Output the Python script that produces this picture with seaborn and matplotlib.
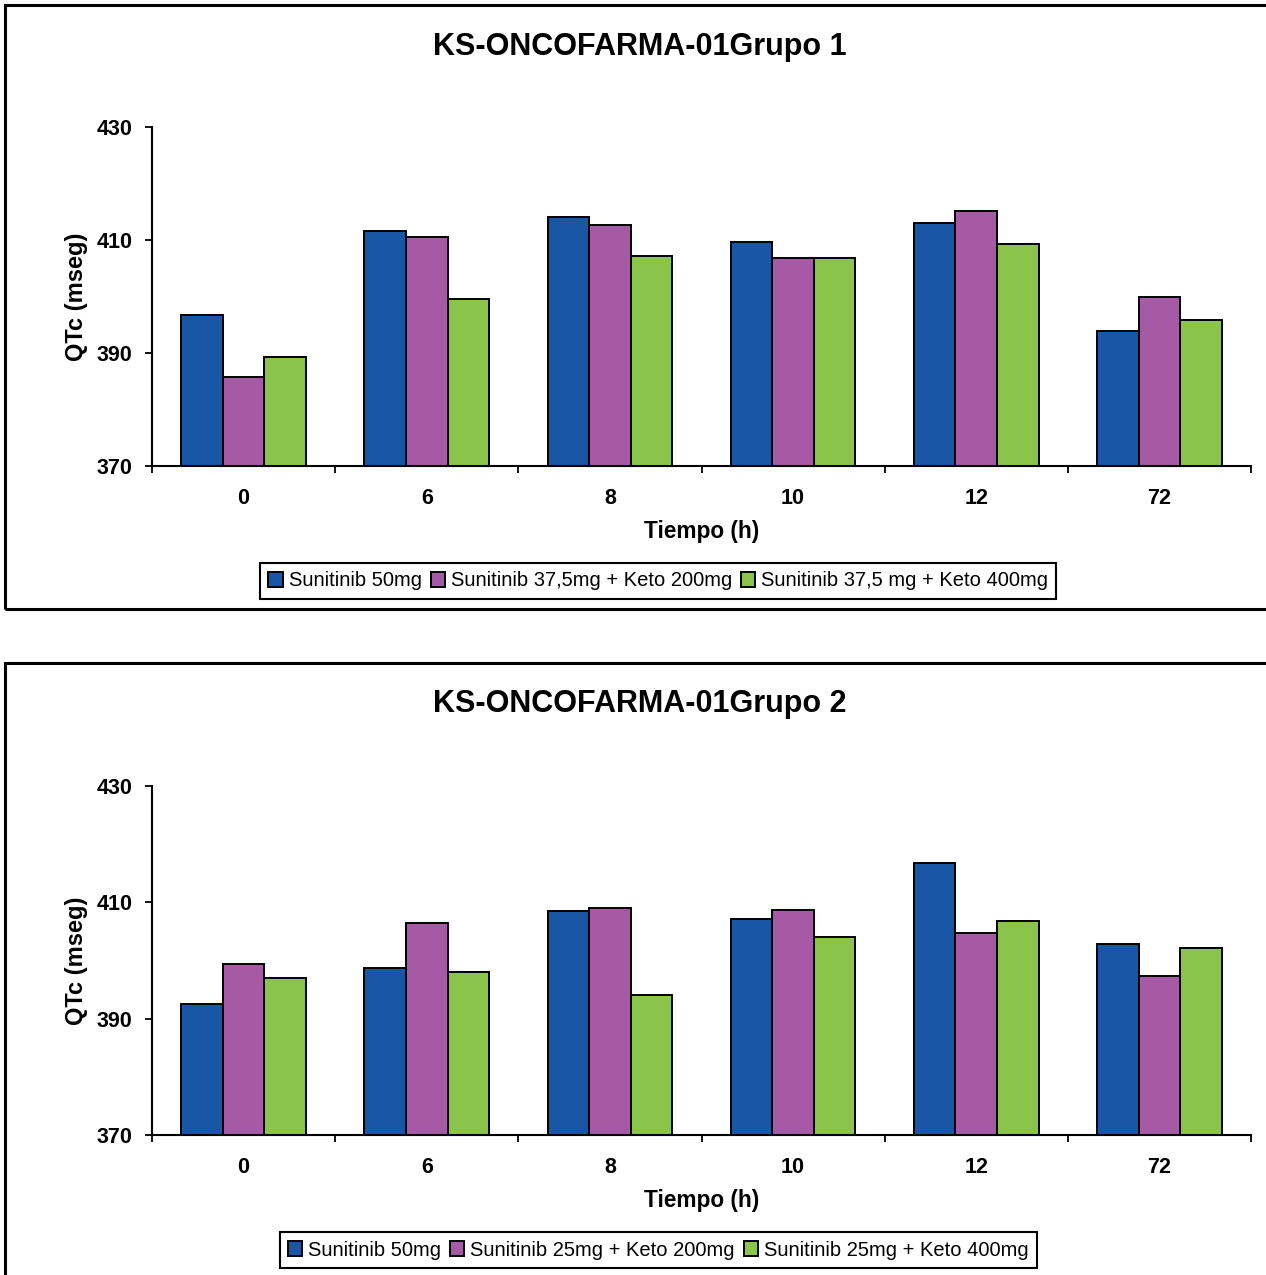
import numpy as np
import pandas as pd
import matplotlib
matplotlib.use("Agg")
import matplotlib.pyplot as plt
from matplotlib.patches import Rectangle
import seaborn as sns

# ---------------- data ----------------
times = ["0", "6", "8", "10", "12", "72"]

g1_labels = ["Sunitinib 50mg", "Sunitinib 37,5mg + Keto 200mg", "Sunitinib 37,5 mg + Keto 400mg"]
g1_s50 = [396.7, 411.6, 414.1, 409.6, 413.0, 393.9]
g1_k200 = [385.8, 410.5, 412.7, 406.8, 415.1, 399.9]
g1_k400 = [389.3, 399.6, 407.2, 406.8, 409.3, 395.8]

g2_labels = ["Sunitinib 50mg", "Sunitinib 25mg + Keto 200mg", "Sunitinib 25mg + Keto 400mg"]
g2_s50 = [392.5, 398.7, 408.5, 407.1, 416.8, 402.8]
g2_k200 = [399.4, 406.4, 409.0, 408.7, 404.7, 397.4]
g2_k400 = [397.0, 398.0, 394.1, 404.0, 406.8, 402.1]

titles = ["KS-ONCOFARMA-01Grupo 1", "KS-ONCOFARMA-01Grupo 2"]
yticks = [370, 390, 410, 430]
colors = ["#1957A6", "#A65AA6", "#8BC44A"]

sns.set_theme(style="white")
plt.rcParams['font.family'] = ['Liberation Sans', 'DejaVu Sans']
plt.rcParams['text.color'] = 'black'
plt.rcParams['axes.labelcolor'] = 'black'
plt.rcParams['xtick.color'] = 'black'
plt.rcParams['ytick.color'] = 'black'

fig = plt.figure(figsize=(12.66, 12.75), dpi=100)

# panel borders (figure coordinates)
W, H = 1266, 1275
for (y0, y1) in [(5, 609), (663, 1285)]:
    fig.patches.append(Rectangle((5 / W, 1 - y1 / H), 1.2, (y1 - y0) / H,
                                 transform=fig.transFigure, fill=False,
                                 edgecolor="black", linewidth=2.2, zorder=0))

axes_pos = [
    [152 / W, 1 - 466 / H, (1251 - 152) / W, (466 - 127) / H],
    [152 / W, 1 - 1135 / H, (1251 - 152) / W, (1135 - 786) / H],
]
title_y = [1 - 47 / H, 1 - 704 / H]
legend_y = [1 - 581 / H, 1 - 1250 / H]

datasets = [
    (g1_labels, [g1_s50, g1_k200, g1_k400]),
    (g2_labels, [g2_s50, g2_k200, g2_k400]),
]

for i, (labels, series) in enumerate(datasets):
    rows = []
    for lab, vals in zip(labels, series):
        for t, v in zip(times, vals):
            rows.append({"Tiempo": t, "QTc": v, "Serie": lab})
    df = pd.DataFrame(rows)
    ax = fig.add_axes(axes_pos[i])
    sns.barplot(data=df, x="Tiempo", y="QTc", hue="Serie", order=times,
                hue_order=labels, palette=colors, width=0.68,
                edgecolor="black", linewidth=1.4, saturation=1,
                ax=ax, errorbar=None)
    ax.set_ylim(370, 430)
    ax.set_xlim(-0.5, 5.5)
    ax.set_yticks(yticks)
    ax.set_yticklabels([str(v) for v in yticks], fontsize=15.5, fontweight="bold")
    ax.set_xticks(range(len(times)))
    ax.set_xticklabels(times, fontsize=15.5, fontweight="bold")
    ax.set_xticks(np.arange(-0.5, len(times)), minor=True)
    ax.tick_params(axis="x", which="major", length=0, pad=16, bottom=False)
    ax.tick_params(axis="x", which="minor", length=5, width=1.3, color="black",
                   direction="out", bottom=True)
    ax.tick_params(axis="y", length=5, width=1.3, color="black", direction="out",
                   left=True, pad=9)
    for s in ["top", "right"]:
        ax.spines[s].set_visible(False)
    for s in ["left", "bottom"]:
        ax.spines[s].set_color("black")
        ax.spines[s].set_linewidth(1.5)
    ax.set_xlabel("Tiempo (h)", fontsize=16.3, fontweight="bold", labelpad=8)
    ax.set_ylabel("QTc (mseg)", fontsize=17, fontweight="bold", labelpad=6)
    handles, labs = ax.get_legend_handles_labels()
    if ax.get_legend() is not None:
        ax.get_legend().remove()
    leg = fig.legend(handles, labs, loc="center", bbox_to_anchor=(0.52, legend_y[i]),
                     ncol=3, frameon=True, fontsize=14.5, handlelength=0.7,
                     handleheight=0.7, handletextpad=0.3, columnspacing=0.45,
                     borderpad=0.4, fancybox=False, edgecolor="black", framealpha=1)
    leg.get_frame().set_linewidth(1.5)
    fig.text(0.505, title_y[i], titles[i], ha="center", va="center",
             fontsize=22, fontweight="bold")

fig.savefig("out.png", dpi=100)
